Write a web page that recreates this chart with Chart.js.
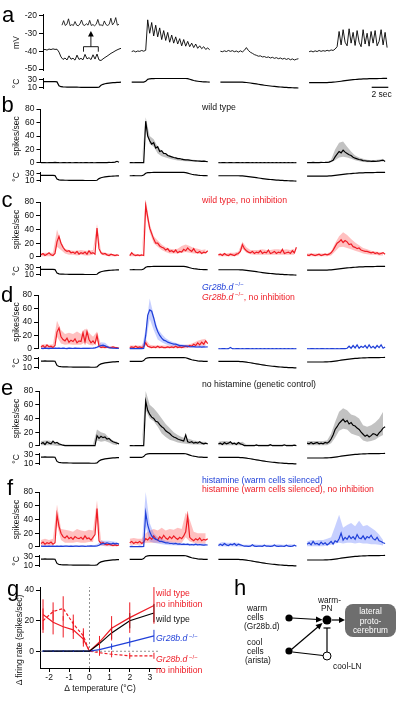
<!DOCTYPE html>
<html>
<head>
<meta charset="utf-8">
<script src="https://cdn.jsdelivr.net/npm/chart.js@4.4.1/dist/chart.umd.min.js"></script>
<style>
  html, body { margin: 0; padding: 0; background: #fff; }
  #fig { position: relative; width: 400px; height: 723px; overflow: hidden; font-family: "Liberation Sans", Arial, sans-serif; }
  #ann { position: absolute; left: 0; top: 0; z-index: 5; }
</style>
</head>
<body>
<div id="fig">
<svg id="ann" width="400" height="723" font-family="Liberation Sans, Arial, sans-serif">
  <g font-size="22" fill="#000">
    <text x="2" y="22">a</text>
    <text x="1.5" y="112">b</text>
    <text x="1.5" y="207">c</text>
    <text x="1" y="302">d</text>
    <text x="1" y="395">e</text>
    <text x="7" y="495">f</text>
    <text x="7" y="596">g</text>
    <text x="234" y="595">h</text>
  </g>
  <!-- inset bracket + arrow (panel a) -->
  <path d="M83.5 51.7 V46.7 H98.3 V51.7" fill="none" stroke="#000" stroke-width="0.9"/>
  <line x1="90.9" y1="46.7" x2="90.9" y2="35" stroke="#000" stroke-width="0.9"/>
  <path d="M88 36.5 L90.9 31 L93.8 36.5 Z" fill="#000"/>
  <!-- time scale bar -->
  <line x1="371.7" y1="87.3" x2="388.3" y2="87.3" stroke="#000" stroke-width="1.2"/>
  <text x="371.5" y="96.5" font-size="8.5" fill="#111">2 sec</text>
  <!-- condition labels -->
  <g font-size="8.7">
    <text x="202" y="109.5" fill="#111">wild type</text>
    <text x="202" y="203" fill="#ee1c25">wild type, no inhibition</text>
    <text x="202" y="289.5" fill="#1f3fd8"><tspan font-style="italic">Gr28b.d</tspan><tspan font-size="6" dy="-3.5"> −/−</tspan></text>
    <text x="202" y="299.5" fill="#ee1c25"><tspan font-style="italic">Gr28b.d</tspan><tspan font-size="6" dy="-3.5"> −/−</tspan><tspan dy="3.5">, no inhibition</tspan></text>
    <text x="202" y="386.5" fill="#111">no histamine (genetic control)</text>
    <text x="202" y="482.5" fill="#1f3fd8">histamine (warm cells silenced)</text>
    <text x="202" y="491.5" fill="#ee1c25">histamine (warm cells silenced), no inhibition</text>
  </g>
  <!-- panel g labels -->
  <text transform="translate(21.5 640) rotate(-90)" text-anchor="middle" font-size="8.5" fill="#111">Δ firing rate (spikes/sec)</text>
  <g font-size="8.7">
    <text x="156" y="596" fill="#ee1c25">wild type</text>
    <text x="156" y="607" fill="#ee1c25">no inhibition</text>
    <text x="156" y="622" fill="#111">wild type</text>
    <text x="156" y="641" fill="#1f3fd8"><tspan font-style="italic">Gr28b.d</tspan><tspan font-size="6" dy="-3.5"> −/−</tspan></text>
    <text x="156" y="662" fill="#ee1c25"><tspan font-style="italic">Gr28b.d</tspan><tspan font-size="6" dy="-3.5"> −/−</tspan></text>
    <text x="156" y="673" fill="#ee1c25">no inhibition</text>
  </g>
  <!-- panel h circuit -->
  <g font-size="8.3" fill="#111">
    <text x="247" y="611">warm</text>
    <text x="247" y="620">cells</text>
    <text x="244" y="629">(Gr28b.d)</text>
    <text x="247" y="645">cool</text>
    <text x="247" y="654">cells</text>
    <text x="245" y="663">(arista)</text>
    <text x="318" y="603">warm-</text>
    <text x="321" y="611">PN</text>
    <text x="333" y="669">cool-LN</text>
  </g>
  <circle cx="289" cy="618" r="3.6" fill="#000"/>
  <circle cx="289" cy="651" r="3.6" fill="#000"/>
  <circle cx="327" cy="620" r="4.5" fill="#000"/>
  <circle cx="327" cy="656" r="4" fill="#fff" stroke="#000" stroke-width="1"/>
  <line x1="292" y1="618" x2="318" y2="619.5" stroke="#000" stroke-width="1.2"/>
  <path d="M316 616.5 L322.5 619.7 L316 622.5 Z" fill="#000"/>
  <line x1="292" y1="649" x2="319" y2="626" stroke="#000" stroke-width="1.2"/>
  <path d="M315.5 625 L322.5 623 L319.5 629.5 Z" fill="#000"/>
  <line x1="292.5" y1="652" x2="323" y2="655.5" stroke="#000" stroke-width="1.2"/>
  <line x1="327" y1="652" x2="327" y2="628" stroke="#000" stroke-width="1.2"/>
  <line x1="323.5" y1="628" x2="330.5" y2="628" stroke="#000" stroke-width="1.2"/>
  <line x1="332" y1="620" x2="340" y2="620" stroke="#000" stroke-width="1.2"/>
  <path d="M339 617 L345 620 L339 623 Z" fill="#000"/>
  <rect x="345" y="604" width="51" height="33" rx="8" fill="#6e6e6e"/>
  <g font-size="8.3" fill="#fff" text-anchor="middle">
    <text x="370.5" y="614">lateral</text>
    <text x="370.5" y="623.5">proto-</text>
    <text x="370.5" y="633">cerebrum</text>
  </g>
</svg>
</div>
<script>
// ---------- data ----------
const rateTicks = [0, 20, 40, 60, 80];
const mvTicks = [-50, -40, -30, -20];
const tempTicks = [10, 30];

// temperature stimulus (deg C), 0.2 s samples, four segments
const tempSeg1 = [25,25,25.2,25,25,25.1,25,24.5, 15,12.5, 12,11.8,11.6,11.5,11.4,11.3,11.2,11.2,11.1,11.0, 11.0,11.0,10.9,10.9,10.9,10.8,10.8,10.8, 11.5,16, 18.5,19.8,20.8,21.5,22.0,22.5,22.9,23.2,23.5,23.7];
const tempSeg2 = [24,24,24.1,24,24,24,24,26, 31,32.3, 32.7,32.9,33,33,33,33,33,33,33,33, 33,33,33,33,33,33,33,33, 32.5,31, 29.5,28,27,26.2,25.5,25,24.7,24.4,24.2,24];
const tempSeg3 = [24,24,24,24,24,24,24,24,24,24, 24,23.8,23.5,23,22.4,21.7,21,20.2,19.4,18.6, 17.8,17,16.2,15.5,14.8,14.2,13.6,13.1,12.6,12.1, 11.7,11.3,11.0,10.7,10.4,10.1,9.9,9.7,9.5,9.3];
const tempSeg4 = [22.8,22.8,22.8,22.8,22.8,22.8,22.8,22.8,22.8,22.9, 23.1,23.4,23.8,24.3,24.9,25.5,26.2,26.9,27.6,28.3, 28.9,29.5,30.0,30.5,30.9,31.3,31.6,31.9,32.1,32.3, 32.5,32.6,32.7,32.8,32.9,33.0,33.0,33.1,33.1,33.2];

// a: membrane potential (mV)
const mvSeg1 = [-39.2,-39.0,-39.4,-38.8,-39.1,-38.7,-39.0,-38.9,-40.5,-43.2, -44.6,-43.8,-44.9,-42.6,-44.5,-43.9,-45.0,-42.2,-44.6,-44.0, -44.8,-41.8,-44.3,-43.6,-44.7,-42.0,-44.4,-41.6,-44.9,-45.2, -44.3,-43.5,-42.8,-42.0,-41.2,-40.6,-39.9,-39.3,-38.8,-38.4];
const mvSeg2 = [-40.2,-39.8,-40.4,-39.9,-40.1,-39.6,-40.0,-39.5,-22.5,-30.0, -24.0,-31.5,-25.5,-32.0,-27.0,-33.5,-28.5,-34.0,-29.5,-35.0, -31.0,-35.5,-32.0,-36.0,-33.0,-37.0,-33.5,-37.2,-34.5,-37.5, -35.5,-38.0,-36.0,-38.4,-37.0,-38.6,-37.5,-39.0,-38.2,-39.2];
const mvSeg3 = [-40.0,-40.3,-39.8,-40.2,-39.6,-40.1,-39.7,-40.3,-39.9,-40.5, -39.8,-40.4,-39.5,-38.0,-39.6,-40.6,-41.2,-41.9,-42.3,-42.8, -42.6,-43.2,-43.0,-43.5,-43.2,-43.8,-43.4,-44.0,-43.6,-44.2, -43.8,-44.4,-44.0,-44.6,-44.1,-44.8,-44.3,-44.9,-44.5,-44.2];
const mvSeg4 = [-40.3,-39.9,-40.4,-39.8,-40.2,-39.6,-40.1,-39.7,-40.0,-39.5, -39.9,-39.3,-39.6,-38.8,-37.5,-29.0,-36.5,-28.0,-35.0,-37.0, -27.5,-35.5,-29.5,-36.8,-28.5,-35.0,-37.5,-28.0,-36.0,-30.0, -37.2,-29.0,-35.5,-28.5,-37.0,-34.5,-28.0,-36.5,-29.5,-38.0];
const insetMv = [0.3,1.8,0.2,0.6,2.4,0.1,0.5,0.2,1.5,0.3,0.1,0.7,2.0,0.4,0.2,0.8,0.3,1.9,0.2,0.5,0.1,0.6,2.2,0.3,0.4,0.1,1.7,0.5,0.2,0.6,2.6,0.4,1.1,2.8,0.3,0.6];

// b: wild type (spikes/sec)
const bSeg1 = [0.4,0.3,0.6,0.2,0.5,0.3,0.4,0.8,0.5,0.3, 0.2,0.4,0.3,0.2,0.5,0.3,0.2,0.4,0.3,0.2, 0.3,0.2,0.4,0.3,0.2,0.5,0.3,0.2,0.4,0.3, 0.5,0.4,0.6,0.5,0.7,0.6,0.9,1.2,2.4,1.0];
const bSeg2 = [0.3,0.5,0.2,0.4,0.3,0.5,0.3,0.4, 62,40,33,28,30,22,24,17,18,14, 14,11,10,9,8,7.5,6.5,6.5,5.5,5, 4.5,4.5,4,3.6,3.2,3,2.8,2.6,2.4,2.5, 2.2,2.0];
const bSeg3 = [0.3,0.2,0.4,0.3,0.2,0.3,0.5,0.3,0.2,0.4, 0.3,0.2,0.3,0.2,0.4,0.3,0.2,0.3,0.2,0.3, 0.2,0.3,0.2,0.4,0.2,0.3,0.2,0.3,0.2,0.3, 0.2,0.3,0.2,0.3,0.2,0.3,0.2,0.3,0.2,0.3];
const bSeg4 = [0.5,0.6,0.4,0.7,0.5,0.6,0.4,0.8,0.6,0.7, 0.9,1.2,2.5,4,9,13,17,15,19,16, 14,12,11,8.5,7,6,5,4.5,3.5,3.2, 2.6,2.8,2.4,2.6,2.3,2.5,2.8,3.6,4.2,2.0];
const bHi = [null, [1,1,1,1,68,40,35,24,18,14,11,9,7.5,6.5,5.5,5,4.5,4,3.8,3.5], null, [1,1,1,1,1,1,4.5,20,30,32,24,17,11,8,6,4.5,4,4.2,5,6]];
const bLo = [null, [0,0,0,0,54,28,24,14,10,8,6,4.5,3.5,3,2.5,2,1.8,1.6,1.4,1.2], null, [0,0,0,0,0,0,1,4,8,9,8,6,4,2.5,1.5,1,1,1.2,1.5,2]];

// c: wild type, no inhibition
const cSeg1 = [3,5,2,4,6,3,2,5, 22,30, 20,14,10,8,9,6,7,5,8,4, 6,5,7,4,9,5,6,4, 42,12, 6,4,5,3,2,4,3,2,3,2];
const cSeg2 = [2,6,3,2,3,2,3,2, 75,58, 42,34,26,20,20,16,14,13,10,12, 8,9,7,10,6,8,7,11,9,13, 10,8,12,7,6,8,5,7,6,9];
const cSeg3 = [3,4,2,5,3,2,4,3,2,4, 5,8,18,12,9,7,6,8,5,7, 6,9,5,7,6,10,5,6,8,5, 7,6,11,5,6,7,5,9,6,14];
const cSeg4 = [3,2,4,3,2,3,4,2,3,4, 3,4,6,10,15,20,22,25,21,24, 22,18,19,15,14,12,13,10,9,8, 8,7,6,7,5,6,4,5,6,4];
const cHi = [[5,6,6,6,40,22,12,10,9,9,10,9,9,10,48,8,6,5,4,4], [4,5,4,4,85,48,30,24,18,14,12,11,12,16,18,16,13,12,10,11], [5,5,5,6,6,8,22,14,10,10,10,11,10,10,11,11,10,11,10,12], [5,5,5,5,5,5,8,20,30,36,32,26,21,17,13,11,9,8,7,7]];
const cLo = [[1,1,1,1,15,10,5,3,3,2,3,2,2,3,35,3,2,1,1,1], [1,1,1,1,65,36,20,15,10,7,5,5,5,6,7,6,5,5,4,5], [1,1,1,1,1,2,12,6,4,3,3,3,3,3,3,3,3,3,3,3], [1,1,1,1,1,1,2,8,14,15,13,11,9,7,5,4,3,3,2,2]];

// d: Gr28b.d mutant (blue) and mutant, no inhibition (red)
const dRed1 = [3,5,2,6,3,4,2,5, 25,31, 18,14,12,16,10,13,11,15,9,12, 11,24,10,26,14,9,12,8,20,4, 2,3,2,3,2,2,3,2,2,1];
const dRed2 = [2,3,2,4,2,3,2,3, 9,4, 3,2,3,2,4,2,3,2,2,3, 2,3,2,4,2,3,2,3,4,3, 5,4,7,5,9,6,10,7,12,8];
const dBlue1 = [1,0.5,1,0.8,0.5,1.2,0.6,1, 0.8,1,0.6,1.2,0.7,0.5,1,0.8,0.6,1,0.7,0.9, 0.6,0.8,1,0.7,0.9,1,1.2,1.5,2.5,4, 5,5.5,4.5,3,2,1.5,1.2,1,0.8,1];
const dBlue2 = [0.5,0.8,0.4,0.6,0.5,0.7,0.4,0.6, 20,50, 58,56,46,34,26,20,16,13,12,10, 9,8,7,7,6,5,5,4.5,4,4, 3.5,3.2,3.5,3,2.8,3.2,2.6,3,2.8,3];
const dBlue3 = [0.3,0.2,0.4,0.3,0.2,0.3,2,0.3,0.2,0.4, 0.3,0.2,0.3,0.2,0.4,0.3,0.2,0.3,0.2,0.3, 0.2,0.3,0.2,0.4,0.2,0.3,0.2,0.3,0.2,0.3, 0.2,0.3,0.2,0.3,0.2,0.3,0.2,0.3,0.2,0.3];
const dBlue4 = [0.3,0.2,0.4,0.3,0.2,0.3,0.2,0.4,0.3,0.2, 0.3,0.2,0.4,0.3,0.2,0.3,0.2,0.3,0.4,0.3, 1,4,1,5,1.5,6,1,4,2,5, 1,6,1.5,4,1,5,2,6,1,3];
const dRedHi = [[6,7,6,7,42,28,22,24,22,26,22,30,24,18,26,6,5,4,4,3], [5,5,5,5,14,6,5,5,5,5,5,5,5,5,6,7,9,12,14,15], null, null];
const dRedLo = [[1,1,1,1,18,8,6,7,6,6,6,10,6,5,12,1,1,1,1,0.5], [1,1,1,1,5,1,1,1,1,1,1,1,1,1,1,2,3,4,5,5], null, null];
const dBlueHi = [[2,2,2,2,2,2,2,2,2,2,2,2,2,2,4,10,9,4,2,2], [1,1,1,1,30,75,50,30,22,16,12,10,8,7,6,5.5,5,5,5,5], null, null];
const dBlueLo = [[0,0,0,0,0,0,0,0,0,0,0,0,0,0,1,2.5,2.5,1,0,0], [0,0,0,0,10,45,28,14,10,7,5,4,3,2.5,2,2,1.5,1.5,1.5,1.5], null, null];

// e: no histamine (genetic control)
const eSeg1 = [3,5,2,6,4,3,7,4,5,3, 2,1,0.5,0.3,0.5,0.3,0.4,0.3,0.5,0.3, 0.4,0.3,0.5,0.3,0.4,0.3,0.5,0.4, 15,11, 14,12,13,10,11,8,6,5,4,3];
const eSeg2 = [0.3,0.5,0.2,0.4,0.3,0.5,0.3,0.4, 65,52, 46,42,40,36,35,31,28,26,22,20, 18,15,13,12,10,9,8,7,16,6, 5,6,4,5,4,6,4,3,4,3];
const eSeg3 = [3,4,2,5,3,4,6,3,4,2, 5,3,2,0.5,0.3,0.5,0.3,0.4,0.3,1.5, 0.3,0.4,0.3,0.5,0.3,0.4,1.8,0.3,0.4,0.3, 0.5,0.3,0.4,1.6,0.3,0.4,0.3,0.5,1.2,0.4];
const eSeg4 = [4,3,5,3,4,5,3,4,3,5, 4,6,10,16,24,28,33,36,39,35, 37,32,34,30,29,26,24,20,17,14, 16,13,15,18,17,15,19,22,26,28];
const eHi = [[7,8,8,6,3,2,2,2,2,2,2,2,2,2,24,20,18,12,8,6], [1,1,1,1,80,60,55,48,40,32,26,20,16,13,11,10,8,7,6,6], [6,7,7,6,5,5,6,2,2,2,2,2,2,2,2,2,2,2,2,2], [7,7,7,7,7,8,18,35,50,55,52,46,44,40,30,28,30,34,40,50]];
const eLo = [[1,1,1,1,0,0,0,0,0,0,0,0,0,0,8,6,7,5,2,1], [0,0,0,0,52,40,36,28,18,13,9,7,5,4,3,2.5,2,2,1.5,1.5], [1,1,1,1,1,1,1,0,0,0,0,0,0,0,0,0,0,0,0,0], [1,1,1,1,1,1,4,12,22,25,24,18,16,14,8,6,7,9,13,16]];

// f: histamine (blue) and histamine, no inhibition (red)
const fRed1 = [5,7,4,6,5,7,4,6, 47,30, 20,15,13,16,12,14,11,15,13,12, 14,11,16,12,13,10,14,18, 56,9, 5,6,4,3,4,3,2,3,2,3];
const fRed2 = [6,8,5,7,6,8,5,7, 12,10, 14,11,16,12,10,15,12,17,13,11, 15,12,16,13,11,14,12,16,22,45, 14,11,9,12,10,13,9,11,10,12];
const fBlue1 = [1,0.8,1.2,0.9,1,0.7,1.1,0.9,1,0.8, 1.2,0.9,1,1.1,0.8,1,0.9,1.2,1,0.8, 1,1.1,0.9,1,1.2,1.5,1.2,1,1.3,2.5, 4,5,4.5,6,5,4,5.5,4.5,5,4];
const fBlue2 = [0.5,0.8,0.4,0.6,0.5,0.7,0.4,0.6, 50,32, 22,16,13,11,10,8,8,7,6,6, 5,5,4.5,5,4,4.5,3.5,4,3.5,4, 3,3.5,3,4,3,3.5,3,2.5,3,2.8];
const fBlue3 = [2,4,2,5,3,2,4,3,5,2, 4,3,2,1,1.2,0.8,1,3,1,0.8, 1.2,1,0.8,2.5,1,1.2,0.9,1,2.8,1, 0.8,1.2,1,0.9,2.5,1,0.8,1.1,2.6,1];
const fBlue4 = [4,6,3,8,4,5,3,7,4,6, 3,5,8,4,9,7,12,20,10,14, 11,16,12,15,11,18,13,12,16,11, 15,13,17,12,10,14,9,8,6,5];
const fRedHi = [[10,12,10,12,62,26,25,24,22,26,24,23,25,24,68,10,7,6,5,5], [12,13,12,12,20,24,26,24,28,24,26,25,28,26,50,40,22,20,20,20], null, null];
const fRedLo = [[2,2,2,2,32,10,6,6,6,7,6,6,7,7,40,2,1,1,1,1], [3,3,3,3,6,6,6,6,6,6,6,6,6,6,14,8,6,5,5,5], null, null];
const fBlueHi = [[2,2,2,2,2,2,2,2,2,2,2,2,2,2,4,9,9,9,8,7], [1,1,1,1,80,35,20,14,12,9,8,7,6,6,5.5,5,5,5,5,5], [5,7,6,6,6,6,3,3,3,4,3,3,3,3,3,4,3,3,4,3], [8,10,9,10,10,12,14,30,47,28,32,35,30,38,30,32,28,24,18,10]];
const fBlueLo = [[0,0,0,0,0,0,0,0,0,0,0,0,0,0,0.5,2,2,2,2,2], [0,0,0,0,30,8,6,5,4,3,2.5,2.5,2,2,2,1.5,1.5,1.5,1.5,1.5], [0.5,1,0.5,1,0.5,0.5,0.3,0.3,0.3,0.3,0.3,0.3,0.3,0.3,0.3,0.3,0.3,0.3,0.3,0.3], [1,1,1,1,1,2,3,5,6,5,6,6,5,6,5,5,4,4,3,2]];

// g: change in firing rate vs change in temperature
const gTemp = [-2.3, -1.8, -1.3, -0.8, -0.3, 0, 0.5, 1.1, 2.0, 3.2];
const gWtNoInh = [24, 19, 16, 14, 8, 0, 6, 15, 22, 30];
const gWtNoInhErr = [10, 8, 7, 6, 5, 0, 4, 8, 10, 12];
const gGrNoInh = [20, 26, 28, 18, 10, 0, -1, -2, -3, -3];
const gGrNoInhErr = [8, 6, 8, 6, 5, 0, 2, 2, 2, 2];
const gWt = [0, 0, 0, 0, 0, 0, 5, 12, 20, 25];
const gWtErr = [0.5, 0.5, 0.5, 0.5, 0.5, 0, 2, 4, 5, 6];
const gGr = [0, 0, 0, 0, 0, 0, 1, 3, 6, 10];
const gGrErr = [0.5, 0.5, 0.5, 0.5, 0.5, 0, 1, 2, 3, 4];
const gXTicks = [-2, -1, 0, 1, 2, 3];
const gYTicks = [0, 20, 40];

// ---------- drawing ----------
const DT = 0.2, BAND_DT = 0.4, SEG_STEP = 8.87, PX_PER_S = 10, X_RIGHT = 388;
const RED = '#ee1c25', BLUE = '#1f3fd8';
const PINK = 'rgba(255,60,60,0.32)', LBLUE = 'rgba(80,110,255,0.32)', GREY = 'rgba(0,0,0,0.24)';

Chart.defaults.font.family = '"Liberation Sans", Arial, sans-serif';
Chart.defaults.font.size = 8.5;
Chart.defaults.color = '#111';

function pts(segs, step) {
  const out = [];
  segs.forEach((arr, k) => {
    if (!arr) return;
    arr.forEach((v, i) => out.push({x: k * SEG_STEP + i * step, y: v}));
    out.push({x: k * SEG_STEP + arr.length * step, y: null});
  });
  return out;
}

function line(data, color, width, order, dash) {
  return {data, borderColor: color, borderWidth: width, pointRadius: 0, fill: false,
          order, clip: false, spanGaps: false, borderDash: dash || []};
}

function band(lo, hi, color, order) {
  return [
    {data: pts(lo, BAND_DT), borderColor: 'transparent', borderWidth: 0, pointRadius: 0, fill: false, order, clip: false},
    {data: pts(hi, BAND_DT), borderColor: 'transparent', borderWidth: 0, pointRadius: 0, fill: '-1', backgroundColor: color, order, clip: false}
  ];
}

function place(areaTop, areaBottom, areaLeft, areaRight, width, extraBottom) {
  const top = Math.floor(areaTop) - 6;
  const h = Math.ceil(areaBottom + extraBottom + 6) - top;
  const c = document.createElement('canvas');
  c.width = width; c.height = h;
  c.style.cssText = 'position:absolute;left:0;top:' + top + 'px;width:' + width + 'px;height:' + h + 'px';
  document.getElementById('fig').appendChild(c);
  const padding = {top: areaTop - top, bottom: h - (areaBottom - top) - extraBottom, left: areaLeft, right: width - areaRight};
  return {c, padding};
}

function yAxis(min, max, ticks, title, width, titlePad) {
  return {
    min, max,
    afterBuildTicks: s => { s.ticks = ticks.map(v => ({value: v})); },
    afterFit: s => { s.width = width; },
    ticks: {padding: 2, autoSkip: false, color: '#111', font: {size: 8.5}},
    grid: {drawOnChartArea: false, drawTicks: true, tickLength: 4, color: '#000', lineWidth: 1},
    border: {display: true, color: '#000', width: 1},
    title: {display: !!title, text: title, color: '#111', font: {size: 8.5}, padding: {top: titlePad, bottom: 0}}
  };
}

function baseOptions(padding) {
  return {
    responsive: false, animation: false, devicePixelRatio: 1,
    layout: {padding},
    plugins: {legend: {display: false}, tooltip: {enabled: false}}
  };
}

function traceChart(p, yMin, yMax, ticks, title, datasets) {
  const {c, padding} = place(p.yTop, p.yBottom, 0, X_RIGHT, 400, 0);
  const opts = baseOptions(padding);
  opts.scales = {
    x: {type: 'linear', display: false, min: (p.axis - p.x0) / PX_PER_S, max: (X_RIGHT - p.x0) / PX_PER_S},
    y: yAxis(yMin, yMax, ticks, title, p.axis, 12)
  };
  new Chart(c, {type: 'line', data: {datasets}, options: opts});
}

const tempPts = pts([tempSeg1, tempSeg2, tempSeg3, tempSeg4], DT);
function tempChart(p) {
  const s = (p.t10 - p.t30) / 20;
  traceChart({yTop: p.t30 - 4 * s, yBottom: p.t10 + 3 * s, axis: p.axis, x0: p.x0},
             7, 34, tempTicks, '°C', [line(tempPts, '#000', 1.2, 0)]);
}

// panel a
traceChart({yTop: 13.5, yBottom: 71.7, axis: 43, x0: 43}, -51, -19.3, mvTicks, 'mV',
  [line(pts([mvSeg1, mvSeg2, mvSeg3, mvSeg4], DT), '#000', 0.9, 0)]);
tempChart({t30: 79, t10: 88.3, axis: 43, x0: 43});
(function inset() {
  const {c, padding} = place(17, 27, 62, 119, 400, 0);
  const opts = baseOptions(padding);
  opts.scales = {
    x: {type: 'linear', display: false, min: 0, max: insetMv.length - 1},
    y: {display: false, min: -0.3, max: 3.0}
  };
  new Chart(c, {type: 'line', data: {datasets: [line(insetMv.map((v, i) => ({x: i, y: v})), '#000', 0.8, 0)]}, options: opts});
})();

// panel b
traceChart({yTop: 108, yBottom: 164, axis: 40.5, x0: 41}, 0, 80, rateTicks, 'spikes/sec', [
  line(pts([bSeg1, bSeg2, bSeg3, bSeg4], DT), '#000', 1.2, 0),
  ...band(bLo, bHi, GREY, 5)
]);
tempChart({t30: 172.7, t10: 181, axis: 40.5, x0: 41});

// panel c
traceChart({yTop: 201.3, yBottom: 257.3, axis: 40, x0: 41}, 0, 80, rateTicks, 'spikes/sec', [
  line(pts([cSeg1, cSeg2, cSeg3, cSeg4], DT), RED, 1.2, 0),
  ...band(cLo, cHi, PINK, 5)
]);
tempChart({t30: 266.7, t10: 275, axis: 40, x0: 41});

// panel d
traceChart({yTop: 294, yBottom: 350, axis: 38, x0: 41}, 0, 80, rateTicks, 'spikes/sec', [
  line(pts([dBlue1, dBlue2, dBlue3, dBlue4], DT), BLUE, 1.2, 0),
  line(pts([dRed1, dRed2, null, null], DT), RED, 1.2, 1),
  ...band(dBlueLo, dBlueHi, LBLUE, 5),
  ...band(dRedLo, dRedHi, PINK, 6)
]);
tempChart({t30: 358.3, t10: 368.3, axis: 38, x0: 41});

// panel e
traceChart({yTop: 390, yBottom: 446.7, axis: 39.3, x0: 41}, 0, 80, rateTicks, 'spikes/sec', [
  line(pts([eSeg1, eSeg2, eSeg3, eSeg4], DT), '#000', 1.2, 0),
  ...band(eLo, eHi, GREY, 5)
]);
tempChart({t30: 454.3, t10: 464, axis: 39.3, x0: 41});

// panel f
traceChart({yTop: 491, yBottom: 547.7, axis: 39, x0: 41}, 0, 80, rateTicks, 'spikes/sec', [
  line(pts([fBlue1, fBlue2, fBlue3, fBlue4], DT), BLUE, 1.2, 0),
  line(pts([fRed1, fRed2, null, null], DT), RED, 1.2, 1),
  ...band(fBlueLo, fBlueHi, LBLUE, 5),
  ...band(fRedLo, fRedHi, PINK, 6)
]);
tempChart({t30: 556.7, t10: 565.7, axis: 39, x0: 41});

// panel g
const errorBars = {
  id: 'errorBars',
  afterDatasetsDraw(chart) {
    const {ctx, scales: {x, y}} = chart;
    chart.data.datasets.forEach(ds => {
      if (!ds.errors) return;
      ctx.save();
      ctx.strokeStyle = ds.borderColor;
      ctx.lineWidth = 1;
      ds.data.forEach((p, i) => {
        const e = ds.errors[i];
        if (!e) return;
        const px = x.getPixelForValue(p.x);
        ctx.beginPath();
        ctx.moveTo(px, y.getPixelForValue(p.y - e));
        ctx.lineTo(px, y.getPixelForValue(p.y + e));
        ctx.stroke();
      });
      ctx.restore();
    });
  }
};
(function panelG() {
  const {c, padding} = place(586, 668, 0, 160, 200, 28);
  const opts = baseOptions(padding);
  const xy = ys => gTemp.map((t, i) => ({x: t, y: ys[i]}));
  opts.scales = {
    x: {
      type: 'linear', min: -2.45, max: 3.5,
      afterBuildTicks: s => { s.ticks = gXTicks.map(v => ({value: v})); },
      afterFit: s => { s.height = 28; },
      ticks: {padding: 1, autoSkip: false, maxRotation: 0, color: '#111', font: {size: 8.5}},
      grid: {drawOnChartArea: false, drawTicks: true, tickLength: 4, color: '#000'},
      border: {display: true, color: '#000'},
      title: {display: true, text: 'Δ temperature (°C)', color: '#111', font: {size: 8.5}, padding: {top: 0, bottom: 2}}
    },
    y: yAxis(-11, 42, gYTicks, '', 40, 15)
  };
  const wtNoInh = line(xy(gWtNoInh), RED, 1.2, 1); wtNoInh.errors = gWtNoInhErr;
  const grNoInh = line(xy(gGrNoInh), RED, 1.2, 2, [3, 2]); grNoInh.errors = gGrNoInhErr;
  const wt = line(xy(gWt), '#000', 1.2, 0); wt.errors = gWtErr;
  const gr = line(xy(gGr), BLUE, 1.2, 0); gr.errors = gGrErr;
  const zeroH = line([{x: -2.45, y: 0}, {x: 3.5, y: 0}], '#777', 0.8, 9, [2, 2]);
  const zeroV = line([{x: 0, y: -11}, {x: 0, y: 42}], '#777', 0.8, 9, [2, 2]);
  new Chart(c, {type: 'line', data: {datasets: [wt, gr, wtNoInh, grNoInh, zeroH, zeroV]}, options: opts, plugins: [errorBars]});
})();
</script>
</body>
</html>
